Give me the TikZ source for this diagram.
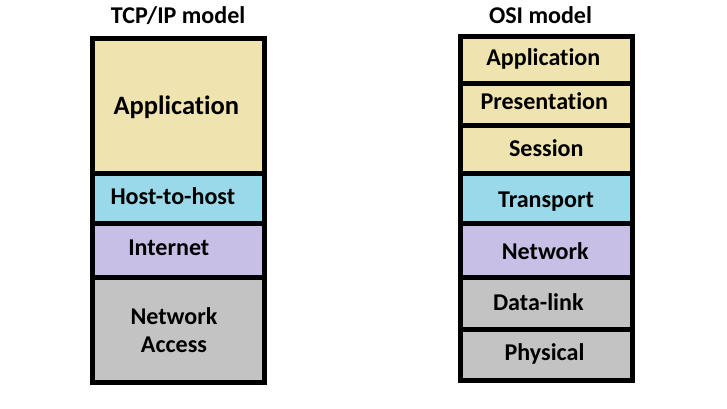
\documentclass[tikz,border=0pt]{standalone}
\usepackage{fontspec}
\setmainfont{Carlito}[Ligatures=NoCommon]
\usepackage{xcolor}
\usepackage{tikz}

\definecolor{tanLayer}{RGB}{239,228,176}
\definecolor{blueLayer}{RGB}{153,217,234}
\definecolor{lilacLayer}{RGB}{200,191,231}
\definecolor{grayLayer}{RGB}{195,195,195}

\begin{document}
\begin{tikzpicture}[x=0.02cm, y=-0.02cm,
		layer/.style={draw=black, line width=0.1cm, line join=miter},
		lbl/.style={anchor=base, inner sep=0pt, align=center, font=\fontsize{13.7}{16.2}\selectfont\bfseries}]
	\useasboundingbox (0,0) rectangle (727,409);

	% TCP/IP model
	\draw[layer, fill=tanLayer] (92.5,38.5) rectangle (264.2,173);
	\draw[layer, fill=blueLayer] (92.5,173) rectangle (264.2,223.5);
	\draw[layer, fill=lilacLayer] (92.5,223.5) rectangle (264.2,277.5);
	\draw[layer, fill=grayLayer] (92.5,277.5) rectangle (264.2,382.5);

	\node[lbl] (tcptitle) at (178.2,24) {TCP/IP model};
	\node[lbl, font=\fontsize{15.1}{18}\selectfont\bfseries] (tcpapp) at (176.3,114.3) {Application};
	\node[lbl] (tcphost) at (172.8,204.3) {Host-to-host};
	\node[lbl] (tcpinternet) at (168.8,255) {Internet};
	\node[lbl] (tcpaccess) at (174,352.7) {Network\\Access};

	% OSI model
	\draw[layer, fill=tanLayer] (460.8,36.7) rectangle (632.5,83.5);
	\draw[layer, fill=tanLayer] (460.8,83.5) rectangle (632.5,125.2);
	\draw[layer, fill=tanLayer] (460.8,125.2) rectangle (632.5,173.5);
	\draw[layer, fill=blueLayer] (460.8,173.5) rectangle (632.5,223.5);
	\draw[layer, fill=lilacLayer] (460.8,223.5) rectangle (632.5,277.5);
	\draw[layer, fill=grayLayer] (460.8,277.5) rectangle (632.5,329.2);
	\draw[layer, fill=grayLayer] (460.8,329.2) rectangle (632.5,380.2);

	\node[lbl] (osititle) at (540.5,24) {OSI model};
	\node[lbl] (osiapp) at (543.3,65.7) {Application};
	\node[lbl] (osipres) at (544.3,109) {Presentation};
	\node[lbl] (osisession) at (546.3,156.7) {Session};
	\node[lbl] (ositransport) at (546,207.7) {Transport};
	\node[lbl] (osinetwork) at (545.3,259.3) {Network};
	\node[lbl] (osidatalink) at (538.3,310) {Data-link};
	\node[lbl] (osiphysical) at (544.5,360.7) {Physical};
\end{tikzpicture}
\end{document}
